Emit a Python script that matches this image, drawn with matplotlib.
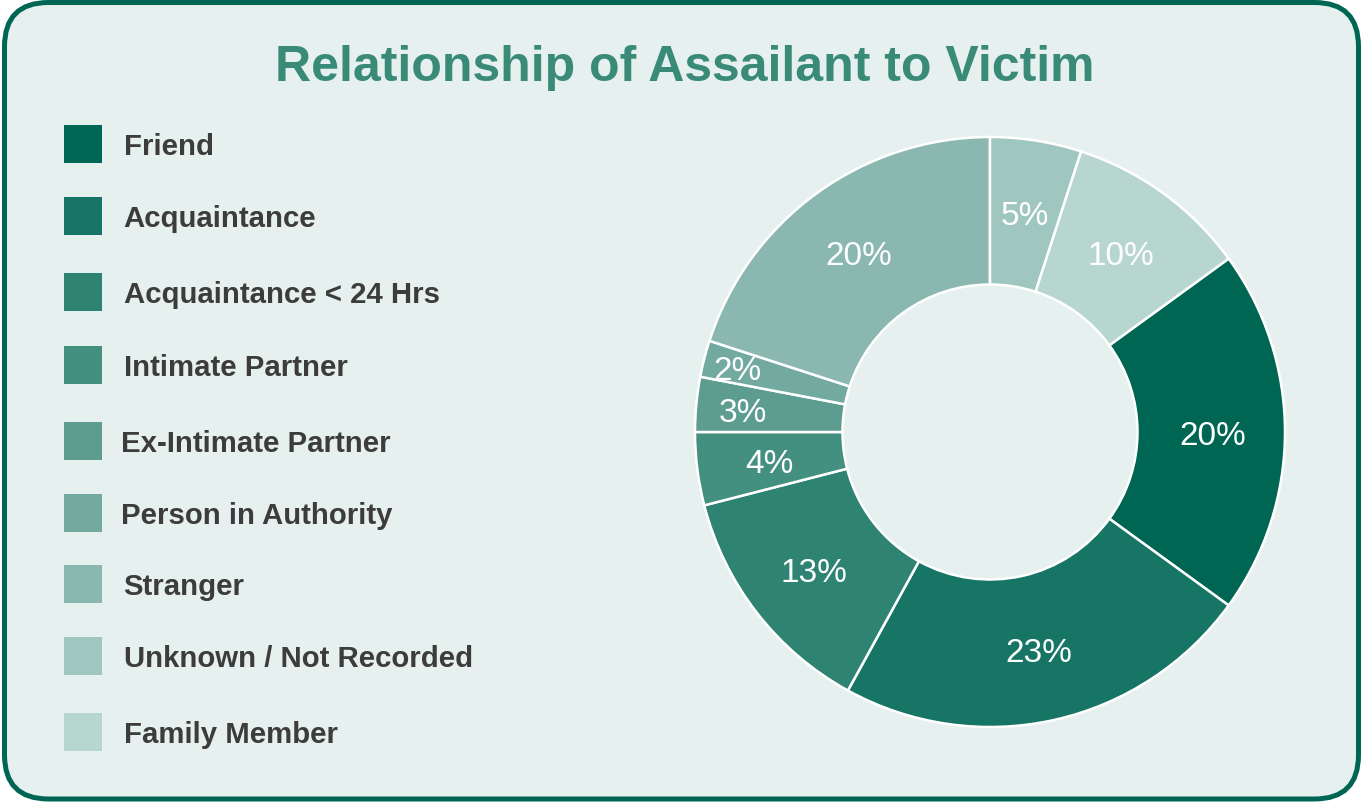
import matplotlib.pyplot as plt
from matplotlib.patches import FancyBboxPatch, Rectangle
import numpy as np

plt.rcParams['font.family'] = ['Liberation Sans', 'DejaVu Sans']

labels = ['Friend', 'Acquaintance', 'Acquaintance < 24 Hrs', 'Intimate Partner',
          'Ex-Intimate Partner', 'Person in Authority', 'Stranger',
          'Unknown / Not Recorded', 'Family Member']
shares = [20, 23, 13, 4, 3, 2, 20, 5, 10]
colors = ['#006654', '#167565', '#2e8373', '#449080', '#5c9d90',
          '#72aaa0', '#8ab8b0', '#a0c7bf', '#b8d6d0']

W, H = 1362, 803
bg = '#e6f0ee'

fig = plt.figure(figsize=(W / 100, H / 100), dpi=100)
fig.patch.set_facecolor('white')

# full-figure axes in pixel units for the frame, title and legend
base = fig.add_axes([0, 0, 1, 1])
base.set_xlim(0, W)
base.set_ylim(H, 0)
base.axis('off')

frame = FancyBboxPatch((4.5, 3.5), W - 8, H - 6.5,
                       boxstyle='round,pad=0,rounding_size=44',
                       facecolor=bg, edgecolor='#006654', linewidth=3.6)
base.add_patch(frame)

base.text(685, 81, 'Relationship of Assailant to Victim', ha='center',
          va='baseline', fontsize=36, fontweight='bold', color='#3a8a78')

# legend rows: swatch centre and text start
row_y = [145, 217, 293, 366, 442, 514, 585, 657, 733]
text_x = [124, 123.5, 123.5, 124, 121, 121, 123.5, 124, 124]
for lab, col, y, tx in zip(labels, colors, row_y, text_x):
    base.add_patch(Rectangle((64, y - 19), 38, 38, facecolor=col, edgecolor='none'))
    base.text(tx, y + 10, lab, ha='left', va='baseline', fontsize=21.2,
              fontweight='bold', color='#3c3c3c')

# donut
ax = fig.add_axes([695 / W, 1 - 728 / H, 590 / W, 590 / H])
wedges, texts, autotexts = ax.pie(
    shares, colors=colors, startangle=36, counterclock=False,
    autopct='%d%%', pctdistance=0.755, radius=1,
    wedgeprops=dict(width=0.5, edgecolor='white', linewidth=1.8),
    textprops=dict(color='white', fontsize=24))

# push the thin slices' labels further out
for t, v in zip(autotexts, shares):
    t.set_va('center_baseline')
    if v <= 3:
        x, y = t.get_position()
        k = (0.885 if v == 2 else 0.84) / 0.755
        t.set_position((x * k, y * k))

ax.set_xlim(-1, 1)
ax.set_ylim(-1, 1)
ax.set_aspect('equal')
ax.axis('off')

fig.savefig('out.png', dpi=100, facecolor=fig.get_facecolor())
